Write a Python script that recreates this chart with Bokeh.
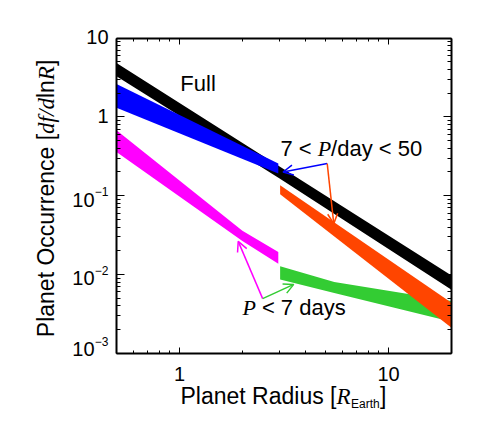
from math import pi, log10
from bokeh.plotting import figure
from bokeh.models import (Label, Arrow, OpenHead, LogAxis, FixedTicker,
                          CustomJSTickFormatter, Range1d)
from bokeh.embed import file_html
from bokeh.resources import INLINE

# ---------------- data (planet radius in R_Earth, occurrence df/dlnR) -------------
full_r = [0.5, 3.0, 20.0]
full_lo = [3.29, 0.166, 0.0064]
full_hi = [4.86, 0.236, 0.0097]

mid_small_r = [0.5, 2.97]          # 7 < P/day < 50, small planets
mid_small_lo = [1.31, 0.191]
mid_small_hi = [2.62, 0.256]

mid_large_r = [3.03, 20.0]         # 7 < P/day < 50, large planets
mid_large_lo = [0.104, 0.00211]
mid_large_hi = [0.1355, 0.00436]

short_small_r = [0.5, 2.0, 2.97]   # P < 7 days, small planets
short_small_lo = [0.359, 0.0266, 0.0137]
short_small_hi = [0.678, 0.036, 0.0193]

short_large_r = [3.03, 5.5, 20.0]  # P < 7 days, large planets
short_large_lo = [0.0086, 0.0058, 0.0025]
short_large_hi = [0.0127, 0.0080, 0.0046]

x_lim = [0.5, 20]
y_lim = [1e-3, 10]
x_ticks = [1, 10]
x_tick_labels = ["1", "10"]
x_minor = [0.5, 0.6, 0.7, 0.8, 0.9, 2, 3, 4, 5, 6, 7, 8, 9, 20]
y_ticks = [10, 1, 0.1, 0.01, 0.001]
y_minor = [m * d for d in (0.001, 0.01, 0.1, 1) for m in range(2, 10)]
y_tick_base = ["10", "1", "10", "10", "10"]
y_tick_exp = ["", "", "\u22121", "\u22122", "\u22123"]

BLACK = "#000000"
BLUE = "#0000FF"
MAGENTA = "#FF00FF"
ORANGE = "#FF4500"
GREEN = "#33CC33"

SANS = "Liberation Sans"
SERIF = "Liberation Serif"

# ---------------- layout: axes box placed inside a large frame ----------
W, H = 485, 428
MB_L, MB_R, MB_T, MB_B = 4, 4, 12, 12          # borders around the frame
BOX_L, BOX_R, BOX_T, BOX_B = 116, 451, 37.7, 352.7  # wanted box, canvas px
FL, FR, FT, FB = MB_L, W - MB_R, MB_T, H - MB_B     # frame edges, canvas px
dec_x = (BOX_R - BOX_L) / (log10(x_lim[1]) - log10(x_lim[0]))
dec_y = (BOX_B - BOX_T) / (log10(y_lim[1]) - log10(y_lim[0]))
xr = Range1d(10 ** (log10(x_lim[0]) - (BOX_L - FL) / dec_x),
             10 ** (log10(x_lim[1]) + (FR - BOX_R) / dec_x))
yr = Range1d(10 ** (log10(y_lim[0]) - (FB - BOX_B) / dec_y),
             10 ** (log10(y_lim[1]) + (BOX_T - FT) / dec_y))

p = figure(width=W, height=H, x_axis_type="log", y_axis_type="log",
           x_range=xr, y_range=yr, output_backend="svg", toolbar_location=None,
           min_border_left=MB_L, min_border_right=MB_R,
           min_border_top=MB_T, min_border_bottom=MB_B)
p.xgrid.visible = False
p.ygrid.visible = False
p.outline_line_color = None
p.background_fill_color = "white"
p.border_fill_color = "white"


def style_axis(ax, major_in, minor_in, loc, bounds):
    ax.fixed_location = loc
    ax.bounds = bounds
    ax.formatter = CustomJSTickFormatter(code="return ''")
    ax.major_label_text_color = None
    ax.major_label_text_font_size = "0px"
    ax.major_label_standoff = 0
    ax.axis_line_color = "black"
    ax.axis_line_width = 2
    ax.major_tick_in = major_in
    ax.major_tick_out = 0
    ax.minor_tick_in = minor_in
    ax.minor_tick_out = 0
    ax.major_tick_line_color = "black"
    ax.minor_tick_line_color = "black"
    ax.major_tick_line_width = 1
    ax.minor_tick_line_width = 1


xa = p.xaxis[0]
xa.ticker = FixedTicker(ticks=x_ticks, minor_ticks=x_minor)
style_axis(xa, 6, 3, y_lim[0], tuple(x_lim))

ya = p.yaxis[0]
ya.ticker = FixedTicker(ticks=y_ticks, minor_ticks=y_minor)
style_axis(ya, 8, 4, x_lim[0], tuple(y_lim))

top = LogAxis(ticker=FixedTicker(ticks=x_ticks, minor_ticks=x_minor))
style_axis(top, 6, 3, y_lim[1], tuple(x_lim))
p.add_layout(top, "above")

right = LogAxis(ticker=FixedTicker(ticks=y_ticks, minor_ticks=y_minor))
style_axis(right, 8, 4, x_lim[1], tuple(y_lim))
p.add_layout(right, "right")

# ---------------- bands ----------------
p.varea(x=full_r, y1=full_lo, y2=full_hi, fill_color=BLACK)
p.varea(x=mid_small_r, y1=mid_small_lo, y2=mid_small_hi, fill_color=BLUE)
p.varea(x=short_small_r, y1=short_small_lo, y2=short_small_hi, fill_color=MAGENTA)
p.varea(x=short_large_r, y1=short_large_lo, y2=short_large_hi, fill_color=GREEN)
p.varea(x=mid_large_r, y1=mid_large_lo, y2=mid_large_hi, fill_color=ORANGE)

# ---------------- text helper ----------------
BASE_FIX = 0.4   # baseline correction (fraction of the font size)


def add_text(x, y, text, dx, dy, size, font=SANS, style="normal", color="black",
             align="left", angle=0.0):
    if angle == 0:
        dy = dy + BASE_FIX * size
    else:
        dx = dx - BASE_FIX * size
    p.add_layout(Label(x=x, y=y, x_offset=dx, y_offset=dy, text=text,
                       text_font=font, text_font_size=f"{size}px",
                       text_font_style=style, text_color=color,
                       text_align=align, text_baseline="alphabetic", angle=angle))


# x tick labels
for t, s in zip(x_ticks, x_tick_labels):
    add_text(t, y_lim[0], s, 0, -29, 20, align="center")

# y tick labels
for t, b, e in zip(y_ticks, y_tick_base, y_tick_exp):
    if e == "":
        add_text(x_lim[0], t, b, -8, -7, 20, align="right")
    else:
        shift = 8 if t == 0.001 else 0
        add_text(x_lim[0], t, b, -22, -12 + shift, 20, align="right")
        add_text(x_lim[0], t, e, -8, -1 + shift, 12, align="right")

# x axis title (anchored at the lower-left corner of the box)
x0, y0 = x_lim[0], y_lim[0]
add_text(x0, y0, "Planet Radius [", 64, -52, 23)
add_text(x0, y0, "R", 220, -52, 23, font=SERIF, style="italic")
add_text(x0, y0, "Earth", 234.5, -56, 12)
add_text(x0, y0, "]", 263.5, -52, 23)

# y axis title (rotated)
add_text(x0, y0, "Planet Occurrence [", -61, 16, 23, angle=pi / 2)
add_text(x0, y0, "df/d", -61, 219.3, 23, font=SERIF, style="italic", angle=pi / 2)
add_text(x0, y0, "ln", -61, 255.1, 23, angle=pi / 2)
add_text(x0, y0, "R", -61, 273.0, 23, font=SERIF, style="italic", angle=pi / 2)
add_text(x0, y0, "]", -61, 287.1, 23, angle=pi / 2)

# annotations
add_text(1.01, 2.06, "Full", 0, 0, 22)
add_text(3.04, 0.31, "7 <", 0, 0, 22)
add_text(3.04, 0.31, "P", 37.3, 0, 22, font=SERIF, style="italic")
add_text(3.04, 0.31, "/day < 50", 50.7, 0, 22)
add_text(2.0, 0.00294, "P", 0, 0, 22, font=SERIF, style="italic")
add_text(2.0, 0.00294, "< 7 days", 19.5, 0, 22)


def arrow(xs, ys, xe, ye, c):
    p.add_layout(Arrow(end=OpenHead(size=10, line_color=c, line_width=1.5),
                       x_start=xs, y_start=ys, x_end=xe, y_end=ye,
                       line_color=c, line_width=1.5))


arrow(5.09, 0.256, 3.13, 0.200, BLUE)
arrow(5.09, 0.256, 5.47, 0.0442, ORANGE)
arrow(2.50, 0.00493, 1.91, 0.0263, MAGENTA)
arrow(2.50, 0.00493, 3.52, 0.00748, GREEN)

open("out.html", "w").write(file_html(p, INLINE))
